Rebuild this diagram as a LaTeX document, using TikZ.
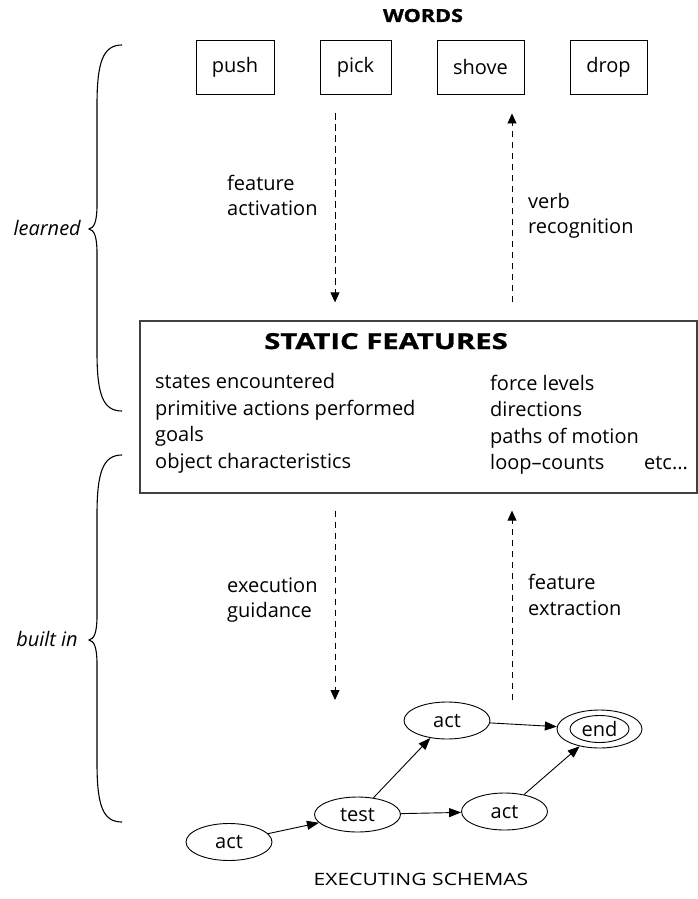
\documentclass[tikz,border=0pt]{standalone}
\usepackage{fontspec}
\setmainfont{Open Sans}
% wide capitals for the headings
\newfontfamily\capsfont[FakeStretch=1.24]{Open Sans}
\newfontfamily\heavyfont[FakeStretch=1.2, BoldFeatures={FakeBold=1.2}]{Open Sans}
\newfontfamily\titlefont[FakeStretch=1.33, BoldFeatures={FakeBold=1.2}]{Open Sans}
\usetikzlibrary{arrows.meta,shapes.geometric}
\begin{document}
\begin{tikzpicture}[x=1pt,y=-1pt,
  every node/.style={font=\fontsize{20}{24}\selectfont, inner sep=0pt},
  wbox/.style={draw, line width=0.9pt, minimum height=54pt},
  txt/.style={anchor=base west},
  ell/.style={ellipse, draw, line width=0.9pt, minimum width=86pt, minimum height=37pt},
  dar/.style={line width=0.9pt, dash pattern=on 6.5pt off 4.5pt, -{Triangle[length=10pt,width=9pt]}},
  sar/.style={line width=0.9pt, -{Triangle[length=12pt,width=9pt]}},
  brace/.style={line width=1.1pt}]
\useasboundingbox (0,0) rectangle (698,899);

% word layer
\node[anchor=base, font=\fontsize{18}{21}\selectfont\heavyfont\bfseries] (words) at (423,22) {WORDS};
\node[wbox, minimum width=78pt] (push)  at (235,67)   {push};
\node[wbox, minimum width=71pt] (pick)  at (355.5,67) {pick};
\node[wbox, minimum width=87pt] (shove) at (480.5,67) {shove};
\node[wbox, minimum width=77pt] (drop)  at (608.5,67) {drop};

% static feature box
\node[draw=black!75, line width=1.3pt, minimum width=557pt, minimum height=172pt] (static) at (418.5,407) {};
\node[anchor=base, font=\fontsize{22}{26}\selectfont\titlefont\bfseries] (sftitle) at (386,349) {STATIC FEATURES};
\node[txt] (l1) at (155,388.5) {states encountered};
\node[txt] (l2) at (155,415) {primitive actions performed};
\node[txt] (l3) at (155,441.5) {goals};
\node[txt] (l4) at (155,468) {object characteristics};
\node[txt] (r1) at (490,390) {force levels};
\node[txt] (r2) at (490,416.5) {directions};
\node[txt] (r3) at (490,443) {paths of motion};
\node[txt] (r4) at (490,469.5) {loop–counts};
\node[txt] (etc) at (644,469.5) {etc...};

% labels beside the dashed arrows
\node[txt] (fa1) at (227,190) {feature};
\node[txt] (fa2) at (227,215) {activation};
\node[txt] (vr1) at (528,208) {verb};
\node[txt] (vr2) at (528,233) {recognition};
\node[txt] (eg1) at (227,592) {execution};
\node[txt] (eg2) at (227,617) {guidance};
\node[txt] (fe1) at (528,589) {feature};
\node[txt] (fe2) at (528,615) {extraction};

% dashed arrows between the layers
\draw[dar, shorten <=19pt, shorten >=18pt] ([xshift=-20.5pt]pick.south) -- ([xshift=-20.5pt]pick.south |- static.north);
\draw[dar, shorten <=18pt, shorten >=19pt] ([xshift=31.5pt]shove.south |- static.north) -- ([xshift=31.5pt]shove.south);
\coordinate (gtip) at (335,700);
\coordinate (fbase) at (512,700);
\draw[dar, shorten <=17pt] (static.south -| gtip) -- (gtip);
\draw[dar, shorten >=17pt] (fbase) -- (static.south -| fbase);

% executing schema
\node[ell] (a1) at (229,842) {act};
\node[ell, minimum height=35pt] (t) at (357.5,814.5) {test};
\node[ell] (a2) at (447,720.5) {act};
\node[ell] (a3) at (504.5,811.5) {act};
\node[ell, minimum width=85pt, minimum height=38pt] (endo) at (599.5,729) {};
\node[ellipse, draw, line width=0.9pt, minimum width=59pt, minimum height=27pt] (end) at (endo) {end};
\draw[sar] (a1) -- (t);
\draw[sar] (t) -- (a2);
\draw[sar] (t) -- (a3);
\draw[sar] (a2) -- (endo);
\draw[sar] (a3) -- (endo);
\node[anchor=base, font=\fontsize{17}{20}\selectfont\capsfont] (exec) at (421,885) {EXECUTING SCHEMAS};

% braces
\draw[brace] (122,45) .. controls (103,45) and (97,62) .. (97,105) -- (97,205)
  .. controls (97,222) and (94,228) .. (89,229) .. controls (94,230) and (97,236) .. (97,253)
  -- (97,352) .. controls (97,395) and (103,411) .. (122,411);
\draw[brace] (122,455) .. controls (103,455) and (97,472) .. (97,515) -- (97,616)
  .. controls (97,633) and (94,639) .. (89,640) .. controls (94,641) and (97,647) .. (97,664)
  -- (97,763) .. controls (97,806) and (103,822) .. (122,822);
\node[anchor=base east, font=\fontsize{20}{24}\selectfont\itshape] (learned) at (81,235) {learned};
\node[anchor=base east, font=\fontsize{20}{24}\selectfont\itshape] (builtin) at (78,646) {built in};
\end{tikzpicture}
\end{document}
